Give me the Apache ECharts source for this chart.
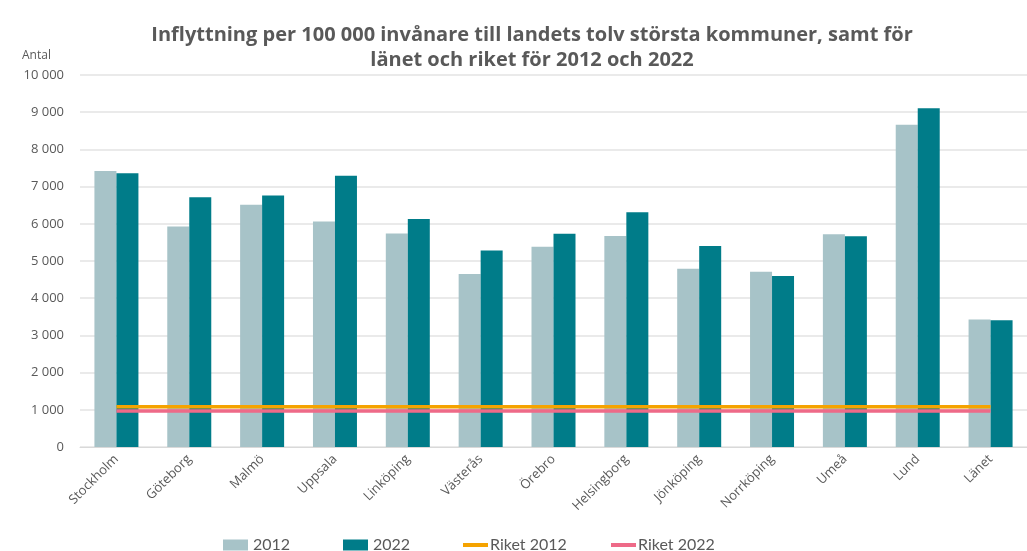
<!DOCTYPE html>
<html><head><meta charset="utf-8">
<script src="https://cdn.jsdelivr.net/npm/echarts@6/dist/echarts.min.js"></script>
<style>html,body{margin:0;padding:0;background:#fff}#c{width:1027px;height:551px}</style>
</head><body><div id="c"></div>
<script>
const categories = ['Stockholm','Göteborg','Malmö','Uppsala','Linköping','Västerås','Örebro','Helsingborg','Jönköping','Norrköping','Umeå','Lund','Länet'];
const values2012 = [7420,5925,6510,6060,5740,4650,5380,5670,4790,4710,5720,8665,3430];
const values2022 = [7360,6715,6760,7290,6130,5280,5730,6310,5400,4595,5665,9105,3410];
const riket2012 = 1080;
const riket2022 = 970;
const yTicks = [0,1000,2000,3000,4000,5000,6000,7000,8000,9000,10000];

const fam = '"Open Sans", sans-serif';
const grey = '#595959';
const chart = echarts.init(document.getElementById('c'));
const legendBase = {top: 532, itemWidth: 25, itemHeight: 11, textStyle: {color: grey, fontSize: 16, fontFamily: 'Lato, sans-serif'}};
chart.setOption({
  animation: false,
  title: {
    text: 'Inflyttning per 100 000 invånare till landets tolv största kommuner, samt för\nlänet och riket för 2012 och 2022',
    left: 527, textAlign: 'center', top: 18,
    textStyle: {fontFamily: fam, fontSize: 20, fontWeight: 'bold', color: grey, lineHeight: 25}
  },
  graphic: [{type: 'text', left: 22, top: 50, style: {text: 'Antal', fontFamily: fam, fontSize: 12, fill: grey}}],
  legend: [
    Object.assign({}, legendBase, {left: 218, data: [{name: '2012', icon: 'rect'}], itemGap: 0}),
    Object.assign({}, legendBase, {left: 338, data: [{name: '2022', icon: 'rect'}]}),
    Object.assign({}, legendBase, {left: 458, data: [{name: 'Riket 2012', icon: 'rect', itemStyle:{color:'#F5A300'}}], itemHeight: 4, textStyle: Object.assign({}, legendBase.textStyle, {padding: [0,0,0,-3]})}),
    Object.assign({}, legendBase, {left: 606, data: [{name: 'Riket 2022', icon: 'rect', itemStyle:{color:'#EE6A88'}}], itemHeight: 4, textStyle: Object.assign({}, legendBase.textStyle, {padding: [0,0,0,-3]})})
  ],
  grid: {left: 80, top: 75, width: 954, height: 372, containLabel: false},
  xAxis: {
    type: 'category', data: categories,
    axisLine: {lineStyle: {color: '#D9D9D9', width: 1}},
    axisTick: {show: false},
    axisLabel: {rotate: 45, color: grey, fontFamily: fam, fontSize: 13, margin: 10, interval: 0}
  },
  yAxis: {
    type: 'value', min: yTicks[0], max: yTicks[yTicks.length-1], interval: 1000,
    axisLine: {show: false}, axisTick: {show: false},
    splitLine: {lineStyle: {color: '#E3E3E3', width: 1.5}},
    axisLabel: {color: grey, fontFamily: fam, fontSize: 13, margin: 16,
      formatter: v => String(v).replace(/\B(?=(\d{3})+(?!\d))/g, ' ')}
  },
  series: [
    {name: '2012', type: 'bar', data: values2012, barWidth: 22, barGap: '0%', itemStyle: {color: '#A7C3C8'}},
    {name: '2022', type: 'bar', data: values2022, barWidth: 22, barGap: '0%', itemStyle: {color: '#007C89'}},
    {name: 'Riket 2012', type: 'line', data: categories.map(() => riket2012), symbol: 'none', lineStyle: {color: '#F5A300', width: 3.5}, itemStyle: {color: '#F5A300'}},
    {name: 'Riket 2022', type: 'line', data: categories.map(() => riket2022), symbol: 'none', lineStyle: {color: '#EE6A88', width: 3.5}, itemStyle: {color: '#EE6A88'}}
  ]
});
</script></body></html>
